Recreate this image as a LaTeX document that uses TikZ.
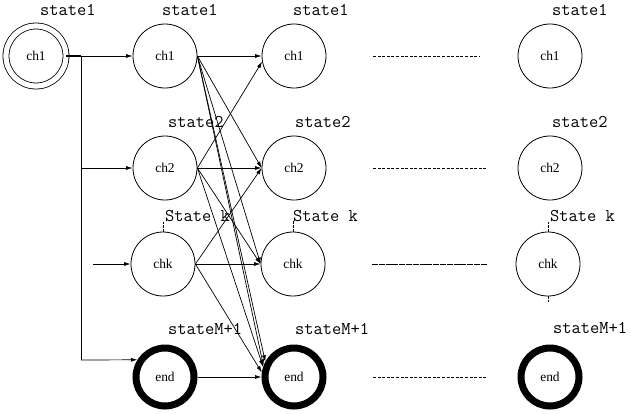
\documentclass[tikz,border=0pt]{standalone}
\usepackage{fontspec}
\setmainfont{Liberation Serif}
\usetikzlibrary{arrows.meta}
\begin{document}
\begin{tikzpicture}[x=1bp,y=-1bp,
  st/.style={circle,draw,line width=0.8bp,minimum size=64bp,inner sep=0pt,font=\fontsize{13.5}{13.5}\selectfont},
  fin/.style={circle,draw,line width=7bp,minimum size=58bp,inner sep=0pt,font=\fontsize{13.5}{13.5}\selectfont},
  startst/.style={circle,draw,double,line width=0.8bp,double distance=5.2bp,minimum size=60bp,inner sep=0pt,font=\fontsize{13.5}{13.5}\selectfont},
  lbl/.style={font=\ttfamily\fontsize{18}{18}\selectfont,anchor=west,inner sep=0pt},
  arr/.style={-{Latex[length=6.5bp,width=4bp]},line width=0.7bp},
  ln/.style={line width=0.7bp},
  dl/.style={dash pattern=on 3bp off 1.6bp,line width=0.7bp},
  dld/.style={dash pattern=on 6bp off 0.8bp,line width=0.9bp},
  tick/.style={dash pattern=on 2.5bp off 1.5bp,line width=0.7bp}]
\useasboundingbox (0,0) rectangle (631,413);

% nodes
\node[startst] (s) at (36,56) {ch1};
\node[st] (c1) at (165,56) {ch1};
\node[st] (d1) at (165,168) {ch2};
\node[st] (k1) at (163,264) {chk};
\node[fin] (e1) at (165,377) {end};
\node[st] (c2) at (294,56) {ch1};
\node[st] (d2) at (294,168) {ch2};
\node[st] (k2) at (293,264) {chk};
\node[fin] (e2) at (294,377) {end};
\node[st] (c4) at (550,56) {ch1};
\node[st] (d4) at (550,168) {ch2};
\node[st] (k4) at (548,264) {chk};
\node[fin] (e4) at (550,377) {end};

% labels
\node[lbl] (ls) at (40,10) {state1};
\node[lbl] (lc1) at (162,10) {state1};
\node[lbl] (ld1) at (168,122) {state2};
\node[lbl] (lk1) at (165,216) {State k};
\node[lbl] (le1) at (168,329) {stateM+1};
\node[lbl] (lc2) at (293,10) {state1};
\node[lbl] (ld2) at (295,122) {state2};
\node[lbl] (lk2) at (293,216) {State k};
\node[lbl] (le2) at (295,329) {stateM+1};
\node[lbl] (lc4) at (552,10) {state1};
\node[lbl] (ld4) at (552,122) {state2};
\node[lbl] (lk4) at (550,216) {State k};
\node[lbl] (le4) at (553,328) {stateM+1};

% ticks between State k labels and chk circles
\draw[tick] (k1.north) -- ++(0,-10);
\draw[tick] (k2.north) -- ++(0,-12);
\draw[tick] (k4.north) -- ++(0,-10);
\draw[tick] (k4.south) -- ++(0,6);

% start connectors
\coordinate (j) at (81,56);
\coordinate (jb) at (81,360);
\coordinate (kin) at (93,264);
\draw[line width=1.6bp] (s.east) -- (j);
\draw[arr] (j) -- (c1.west);
\draw[ln] (j) -- (jb);
\draw[arr] (j |- d1) -- (d1.west);
\draw[arr] (jb) -- (e1.148);
\draw[arr] (kin) -- (k1.west);

% column 1 -> column 2
\draw[arr] (c1.east) -- (c2.west);
\draw[arr] (c1.east) -- (d2.west);
\draw[arr] (c1.east) -- (k2.west);
\draw[arr] (c1.east) -- (e2.152);
\draw[arr] (c1.east) -- (e2.160);
\draw[arr] (d1.east) -- (c2.190);
\draw[arr] (d1.east) -- (d2.west);
\draw[arr] (d1.east) -- (k2.west);
\draw[arr] (d1.east) -- (e2.162);
\draw[arr] (k1.east) -- (d2.west);
\draw[arr] (k1.east) -- (k2.west);
\draw[arr] (k1.east) -- (e2.172);
\draw[arr] (e1.east) -- (e2.west);

% dotted continuation
\coordinate (a1) at (373,56);  \coordinate (b1) at (480,56);
\coordinate (a2) at (373,168); \coordinate (b2) at (487,168);
\coordinate (a3) at (372,264); \coordinate (b3) at (487,264);
\coordinate (a4) at (373,377); \coordinate (b4) at (487,377);
\draw[dl] (a1) -- (b1);
\draw[dl] (a2) -- (b2);
\draw[dld] (a3) -- (b3);
\draw[dl] (a4) -- (b4);
\end{tikzpicture}
\end{document}
